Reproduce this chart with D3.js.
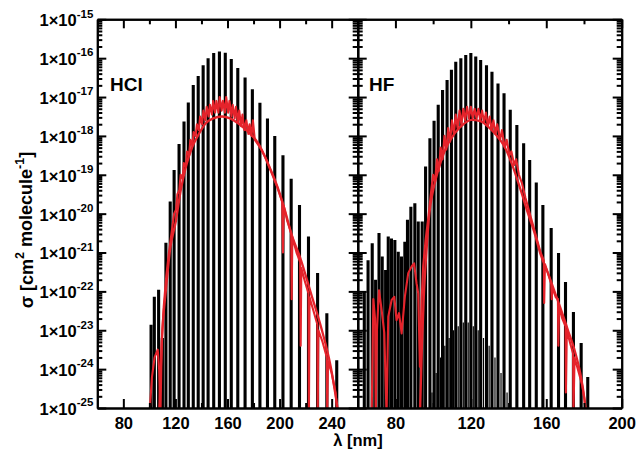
<!DOCTYPE html>
<html><head><meta charset="utf-8">
<script src="https://cdn.jsdelivr.net/npm/d3@7"></script>
<style>
body{margin:0;background:#fff}
text{font-family:"Liberation Sans",Arial,Helvetica,sans-serif;font-weight:bold;fill:#000}
</style></head>
<body><svg id="c" width="638" height="451"></svg>
<script>
// ---------- DATA (wavelength in nm, cross sections as log10 sigma) ----------
const yExponents = [-15,-16,-17,-18,-19,-20,-21,-22,-23,-24,-25];
const hclTicks = [80,120,160,200,240];
const hclMinorTicks = [100,140,180,220];
const hfTicks = [80,120,160,200];
const hfMinorTicks = [100,140,180];

// HCl stick lines
const hclStickLambda = [101.3,103.8,107.1,110.0,112.7,116.0,119.0,122.8,126.6,129.9,133.7,137.5,141.3,145.1,149.4,153.8,158.3,162.9,167.9,173.5,179.1,184.9,190.7,196.3,202.6,208.9,215.3,222.2,229.2,236.3,243.9];
const hclStickLog    = [-22.86,-22.14,-21.96,-23.2,-20.75,-19.69,-18.88,-18.21,-17.63,-17.14,-16.69,-16.46,-16.18,-16.0,-15.87,-15.83,-15.86,-16.02,-16.25,-16.5,-16.8,-17.15,-17.55,-18.0,-18.5,-19.1,-19.78,-20.59,-21.53,-22.56,-23.77];
// HCl smooth (red) continuum
const hclSmoothLambda = [107.5,110,112.7,116,120.3,124.1,128,133,138,143.1,149,155.8,162,168.4,176,183.6,191,198.8,204,208.9,216.5,224.1,231.7,239.3,244.4,245.5];
const hclSmoothLog    = [-25.2,-23.0,-21.96,-20.9,-20.2,-19.4,-18.8,-18.28,-17.95,-17.68,-17.55,-17.5,-17.55,-17.68,-17.9,-18.19,-18.7,-19.35,-19.9,-20.5,-21.2,-22.05,-22.9,-23.94,-24.97,-25.2];
// HCl structured (red) cross section
const hclFineLambda = [100,102,104,106.4,107.5,108.5,109.5,111,113,115,117,119,120.5,121.5,123,124,125.5,126.5,128,129,130.5,131.5,133,134,135.5,136.5,138,139,140.5,141.5,143,144,145.5,146.5,148,149,150.5,151.5,153,154,155.5,156.5,158,159,160.5,161.5,163,164,165.5,166.5,168,169,170.5,171.5,173,174.5,176,177,178.5,179.5,181,183,186,189,192,195,198,202,202.6,203.2,206,208.9,209.3,209.8,213,215.8,216.2,216.7,219.5,222.2,222.5,223,226,229,229.3,229.8,233,236.3,236.6,237.2,240,243,244.5];
const hclFineLog    = [-25.2,-24.2,-23.7,-23.5,-24.0,-25.2,-23.3,-22.4,-21.6,-21.0,-20.5,-20.0,-19.9,-19.5,-19.4,-19.0,-19.1,-18.7,-18.8,-18.4,-18.5,-18.1,-18.25,-17.9,-18.0,-17.7,-17.85,-17.5,-17.7,-17.35,-17.6,-17.25,-17.5,-17.2,-17.45,-17.1,-17.4,-17.1,-17.4,-17.0,-17.35,-17.1,-17.4,-17.0,-17.4,-17.1,-17.5,-17.2,-17.55,-17.25,-17.65,-17.35,-17.75,-17.45,-17.85,-17.6,-17.95,-17.7,-18.0,-17.6,-18.1,-18.2,-18.35,-18.55,-18.8,-19.05,-19.3,-19.7,-21.0,-19.8,-20.2,-20.5,-22.2,-20.6,-21.0,-21.25,-23.4,-21.4,-21.75,-22.05,-25.2,-22.15,-22.5,-22.85,-25.2,-23.0,-23.3,-23.7,-25.2,-23.8,-24.1,-24.6,-25.2];

// HF stick lines
const hfStickLambda = [63.5,65.5,67.7,69.5,71.3,73.0,74.8,76.2,77.9,79.7,81.5,83.2,85.0,86.4,88.2,90.3,92.1,94.2,96.0,98.3,100.5,102.7,105.0,107.4,109.7,112.0,114.7,117.3,120.0,122.6,125.2,128.3,131.2,134.4,137.6,140.9,144.4,148.0,151.2,154.7,158.2,162.6,166.5,170.2,174.4,178.5,182.0];
const hfStickLog    = [-22.0,-21.2,-20.76,-21.7,-20.5,-21.1,-21.45,-20.59,-20.64,-20.68,-20.98,-21.1,-20.72,-20.16,-19.82,-19.73,-20.2,-20.2,-18.79,-18.06,-17.61,-17.2,-16.82,-16.56,-16.3,-16.09,-16.0,-15.92,-15.87,-15.96,-16.05,-16.18,-16.35,-16.65,-16.9,-17.33,-17.72,-18.19,-18.62,-19.2,-19.78,-20.37,-21.01,-21.76,-22.53,-23.33,-24.2];
// HF faint lines near the baseline
const hfWeakLambda = [99.4,101.6,103.9,106.2,108.5,110.8,113.3,116.0,118.6,121.3,123.9,126.7,129.7,132.8,136.0,139.2];
const hfWeakLog    = [-24.6,-24.1,-23.7,-23.4,-23.2,-23.0,-22.9,-22.8,-22.8,-22.9,-23.0,-23.2,-23.4,-23.7,-24.1,-24.6];
// HF smooth (red) continuum
const hfSmoothLambda = [93,94,95,96.5,98,100,102.7,106,111.5,116,120.3,125,129.1,133,137.9,142,146.8,150,153.8,157,160.9,164,167.9,171.5,175,178,180.3,181.2];
const hfSmoothLog    = [-25.2,-23.5,-22.2,-20.94,-20.0,-19.4,-18.88,-18.4,-17.93,-17.7,-17.59,-17.62,-17.76,-17.95,-18.28,-18.75,-19.45,-19.95,-20.5,-21.05,-21.53,-21.95,-22.48,-23.0,-23.51,-24.1,-24.79,-25.2];
// HF structured (red) cross section
const hfFineLambda = [66.8,67.4,68.3,69.2,69.6,70.2,71.3,72.7,74.1,75.3,76.2,78.0,79.4,80.6,81.9,83.3,85.0,86.8,88.6,89.9,91.2,92.1,93.0,93.9,94.7,96.0,97.7,99.0,100,101,102,103,104,105,106,107,108,109,110,111,112,113,114,115,116,117,118,119,120,121,122,123,124,125,126,127,128,129,130,131,132,133,134,135.5,136.5,138,139,140.5,141.5,143,144,145.5,147,149,151,153,155,157,158.7,158.9,159.3,161,162.6,162.9,163.3,165,166.2,166.4,166.8,168.5,170.2,170.4,170.9,172.5,174.2,174.4,175,177,179,180.3,181];
const hfFineLog    = [-25.2,-25.2,-22.2,-22.7,-25.2,-23.0,-21.97,-22.48,-23.07,-25.2,-22.65,-22.22,-22.14,-22.74,-22.56,-23.08,-22.14,-21.53,-21.36,-21.28,-21.79,-22.05,-23.94,-22.22,-21.36,-20.68,-19.99,-19.4,-19.0,-19.2,-18.6,-18.9,-18.3,-18.6,-18.0,-18.35,-17.8,-18.15,-17.6,-17.95,-17.45,-17.8,-17.35,-17.7,-17.3,-17.6,-17.25,-17.55,-17.25,-17.55,-17.3,-17.55,-17.3,-17.6,-17.35,-17.65,-17.4,-17.75,-17.5,-17.85,-17.6,-17.95,-17.7,-18.1,-17.85,-18.3,-18.1,-18.5,-18.4,-18.75,-18.6,-19.0,-19.2,-19.6,-19.95,-20.3,-20.65,-21.0,-21.2,-22.3,-21.3,-21.55,-21.8,-22.2,-21.9,-22.15,-22.2,-23.4,-22.4,-22.7,-22.9,-24.6,-23.0,-23.3,-23.6,-25.2,-23.7,-24.05,-24.4,-24.79,-25.2];

// ---------- LAYOUT ----------
const svg = d3.select("#c");
const yTop = 19.3, yBottom = 408;
const y = d3.scaleLog().domain([1e-25, 1e-15]).range([yBottom, yTop]);
const red = "#e5232b";

const panels = [
  {name:"HCl", domain:[60,260], range:[97.3,357.7], ticks:hclTicks, minor:hclMinorTicks,
   stick:[hclStickLambda,hclStickLog], weak:null,
   smooth:[hclSmoothLambda,hclSmoothLog], fine:[hclFineLambda,hclFineLog], labelX:110, leftLabels:true},
  {name:"HF", domain:[60,200], range:[357.7,621.7], ticks:hfTicks, minor:hfMinorTicks,
   stick:[hfStickLambda,hfStickLog], weak:[hfWeakLambda,hfWeakLog],
   smooth:[hfSmoothLambda,hfSmoothLog], fine:[hfFineLambda,hfFineLog], labelX:369, leftLabels:false}
];

const minorY = [];
for (let e=-25; e<-15; e++) for (let k=2; k<=9; k++) minorY.push(k*Math.pow(10,e));
const majorY = yExponents.map(e=>Math.pow(10,e));

panels.forEach((p,i)=>{
  const x = d3.scaleLinear().domain(p.domain).range(p.range);
  const g = svg.append("g");
  const clipId = "clip"+i;
  svg.append("clipPath").attr("id",clipId).append("rect")
    .attr("x",p.range[0]).attr("y",yTop).attr("width",p.range[1]-p.range[0]).attr("height",yBottom-yTop);
  const data = g.append("g").attr("clip-path",`url(#${clipId})`);

  const sticks = (arr,w)=>{
    const d = arr[0].map((l,j)=>({l, v:Math.pow(10,arr[1][j])}));
    data.append("g").selectAll("line").data(d).join("line")
      .attr("x1",d=>x(d.l)).attr("x2",d=>x(d.l))
      .attr("y1",y(1e-25)+2).attr("y2",d=>y(d.v))
      .attr("stroke","#000").attr("stroke-width",w);
  };
  if (p.weak) sticks(p.weak,1.2);
  sticks(p.stick,3.1);

  const fine = p.fine[0].map((l,j)=>({l, v:Math.pow(10,p.fine[1][j])}));
  const smooth = p.smooth[0].map((l,j)=>({l, v:Math.pow(10,p.smooth[1][j])}));
  data.append("path").attr("d",d3.line().x(d=>x(d.l)).y(d=>y(d.v))(fine))
    .attr("fill","none").attr("stroke",red).attr("stroke-width",2.1).attr("stroke-linejoin","round");
  data.append("path").attr("d",d3.line().x(d=>x(d.l)).y(d=>y(d.v)).curve(d3.curveMonotoneX)(smooth))
    .attr("fill","none").attr("stroke",red).attr("stroke-width",2.3);

  const axStyle = s=>{ s.select(".domain").attr("stroke","#000").attr("stroke-width",2);
                       s.selectAll(".tick line").attr("stroke","#000").attr("stroke-width",2); };
  const xb = g.append("g").attr("transform",`translate(0,${yBottom})`)
    .call(d3.axisBottom(x).tickValues(p.ticks).tickSizeInner(-9).tickSizeOuter(0).tickPadding(9).tickFormat(d3.format("d")));
  xb.selectAll("text").attr("font-size",16.5);
  axStyle(xb);
  const xbm = g.append("g").attr("transform",`translate(0,${yBottom})`)
    .call(d3.axisBottom(x).tickValues(p.minor).tickSizeInner(-5).tickSizeOuter(0).tickFormat(""));
  axStyle(xbm);
  const xt = g.append("g").attr("transform",`translate(0,${yTop})`)
    .call(d3.axisTop(x).tickValues(p.ticks).tickSizeInner(-9).tickSizeOuter(0).tickFormat(""));
  axStyle(xt);
  const xtm = g.append("g").attr("transform",`translate(0,${yTop})`)
    .call(d3.axisTop(x).tickValues(p.minor).tickSizeInner(-5).tickSizeOuter(0).tickFormat(""));
  axStyle(xtm);

  const yl = g.append("g").attr("transform",`translate(${p.range[0]},0)`)
    .call(d3.axisLeft(y).tickValues(majorY).tickSizeInner(-9).tickSizeOuter(0).tickFormat(""));
  axStyle(yl);
  const ylm = g.append("g").attr("transform",`translate(${p.range[0]},0)`)
    .call(d3.axisLeft(y).tickValues(minorY).tickSizeInner(-5).tickSizeOuter(0).tickFormat(""));
  axStyle(ylm);
  const yr = g.append("g").attr("transform",`translate(${p.range[1]},0)`)
    .call(d3.axisRight(y).tickValues(majorY).tickSizeInner(-9).tickSizeOuter(0).tickFormat(""));
  axStyle(yr);
  const yrm = g.append("g").attr("transform",`translate(${p.range[1]},0)`)
    .call(d3.axisRight(y).tickValues(minorY).tickSizeInner(-5).tickSizeOuter(0).tickFormat(""));
  axStyle(yrm);

  if (p.leftLabels) {
    const lab = g.append("g").selectAll("text").data(yExponents).join("text")
      .attr("x",p.range[0]-4).attr("y",e=>y(Math.pow(10,e))).attr("dy","0.42em")
      .attr("text-anchor","end").attr("font-size",16.5);
    lab.append("tspan").text("1×10");
    lab.append("tspan").attr("font-size",11.5).attr("dy","-0.75em").text(e=>e);
  }
  g.append("text").attr("x",p.labelX).attr("y",91).attr("font-size",19).text(p.name);
});

svg.append("text").attr("x",358).attr("y",446).attr("text-anchor","middle").attr("font-size",16.5).text("λ [nm]");
const yt = svg.append("text").attr("transform","translate(33,230) rotate(-90)").attr("text-anchor","middle").attr("font-size",18);
yt.append("tspan").text("σ [cm");
yt.append("tspan").attr("font-size",12.5).attr("dy","-0.7em").text("2");
yt.append("tspan").attr("dy","0.45em").text(" molecule");
yt.append("tspan").attr("font-size",12.5).attr("dy","-0.7em").text("-1");
yt.append("tspan").attr("dy","0.45em").text("]");
</script></body></html>
